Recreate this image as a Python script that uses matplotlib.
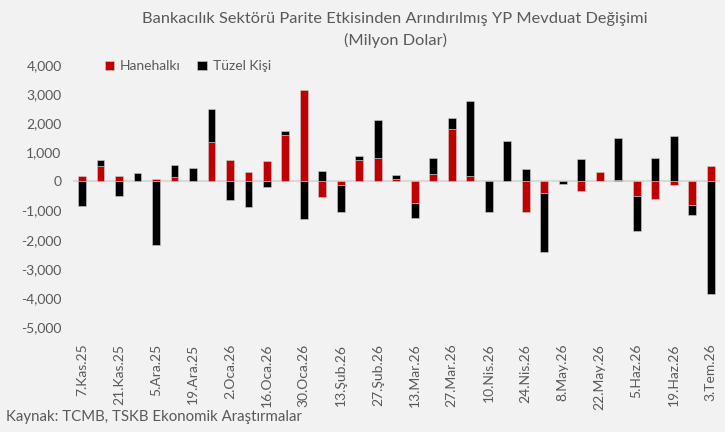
import numpy as np
import matplotlib.pyplot as plt

# weekly dates, Friday values (milyon dolar)
dates = ['7.Kas.25', '14.Kas.25', '21.Kas.25', '28.Kas.25', '5.Ara.25', '12.Ara.25',
         '19.Ara.25', '26.Ara.25', '2.Oca.26', '9.Oca.26', '16.Oca.26', '23.Oca.26',
         '30.Oca.26', '6.Şub.26', '13.Şub.26', '20.Şub.26', '27.Şub.26', '6.Mar.26',
         '13.Mar.26', '20.Mar.26', '27.Mar.26', '3.Nis.26', '10.Nis.26', '17.Nis.26',
         '24.Nis.26', '1.May.26', '8.May.26', '15.May.26', '22.May.26', '29.May.26',
         '5.Haz.26', '12.Haz.26', '19.Haz.26', '26.Haz.26', '3.Tem.26']

hanehalki = [180, 540, 200, 0, 80, 150,
             0, 1370, 740, 340, 700, 1600,
             3130, -530, -130, 730, 800, 80,
             -730, 270, 1800, 200, 0, 0,
             -1050, -400, 0, -330, 340, 40,
             -500, -590, -130, -820, 540]

tuzel = [-850, 205, -500, 300, -2180, 420,
         450, 1120, -650, -870, -200, 150,
         -1300, 370, -920, 160, 1300, 130,
         -520, 550, 390, 2570, -1050, 1400,
         430, -2010, -70, 760, 0, 1440,
         -1200, 800, 1570, -320, -3850]

bg = '#F2F2F2'
red = '#C00000'
txt = '#595959'

plt.rcParams['font.family'] = ['Lato', 'DejaVu Sans']

h = np.array(hanehalki)
t = np.array(tuzel)
x = np.arange(len(dates))
# stack black on top of red only when both have the same sign
t_bottom = np.where(np.sign(h) == np.sign(t), h, 0)

fig = plt.figure(figsize=(7.25, 4.32), dpi=100, facecolor=bg)
ax = fig.add_axes([0.1003, 0.243, 0.8927, 0.6065])
ax.set_facecolor(bg)

ax.bar(x, h, width=0.42, color=red, edgecolor='#d0d0d0', linewidth=0.4, label='Hanehalkı', zorder=3)
ax.bar(x, t, width=0.42, bottom=t_bottom, color='black', edgecolor='#d0d0d0', linewidth=0.4,
       label='Tüzel Kişi', zorder=3)
ax.axhline(0, color='#D9D9D9', linewidth=1.5, zorder=2)

ax.set_xlim(-0.5, len(dates) - 0.5)
ax.set_ylim(-5000, 4000)
ax.set_yticks(np.arange(-5000, 4001, 1000))
ax.set_yticklabels([f'{v:,}' for v in range(-5000, 4001, 1000)])
ax.set_xticks(x[::2])
ax.set_xticklabels(dates[::2], rotation=90)
ax.tick_params(axis='both', length=0, colors=txt, labelsize=10)
ax.tick_params(axis='y', pad=8)
ax.tick_params(axis='x', pad=12)
for s in ax.spines.values():
    s.set_visible(False)

ax.legend(loc='upper left', bbox_to_anchor=(0.03, 1.065), ncol=2, frameon=False,
          handlelength=0.7, handleheight=0.7, handletextpad=0.4, columnspacing=1.2,
          fontsize=10, labelcolor=txt)

fig.text(0.545, 0.955, 'Bankacılık Sektörü Parite Etkisinden Arındırılmış YP Mevduat Değişimi',
         ha='center', va='center', fontsize=11.8, color=txt)
fig.text(0.545, 0.906, '(Milyon Dolar)', ha='center', va='center', fontsize=11.8, color=txt)
fig.text(0.008, 0.035, 'Kaynak: TCMB, TSKB Ekonomik Araştırmalar', ha='left', va='center',
         fontsize=10.8, color=txt)

fig.savefig('out.png', dpi=100, facecolor=bg)
